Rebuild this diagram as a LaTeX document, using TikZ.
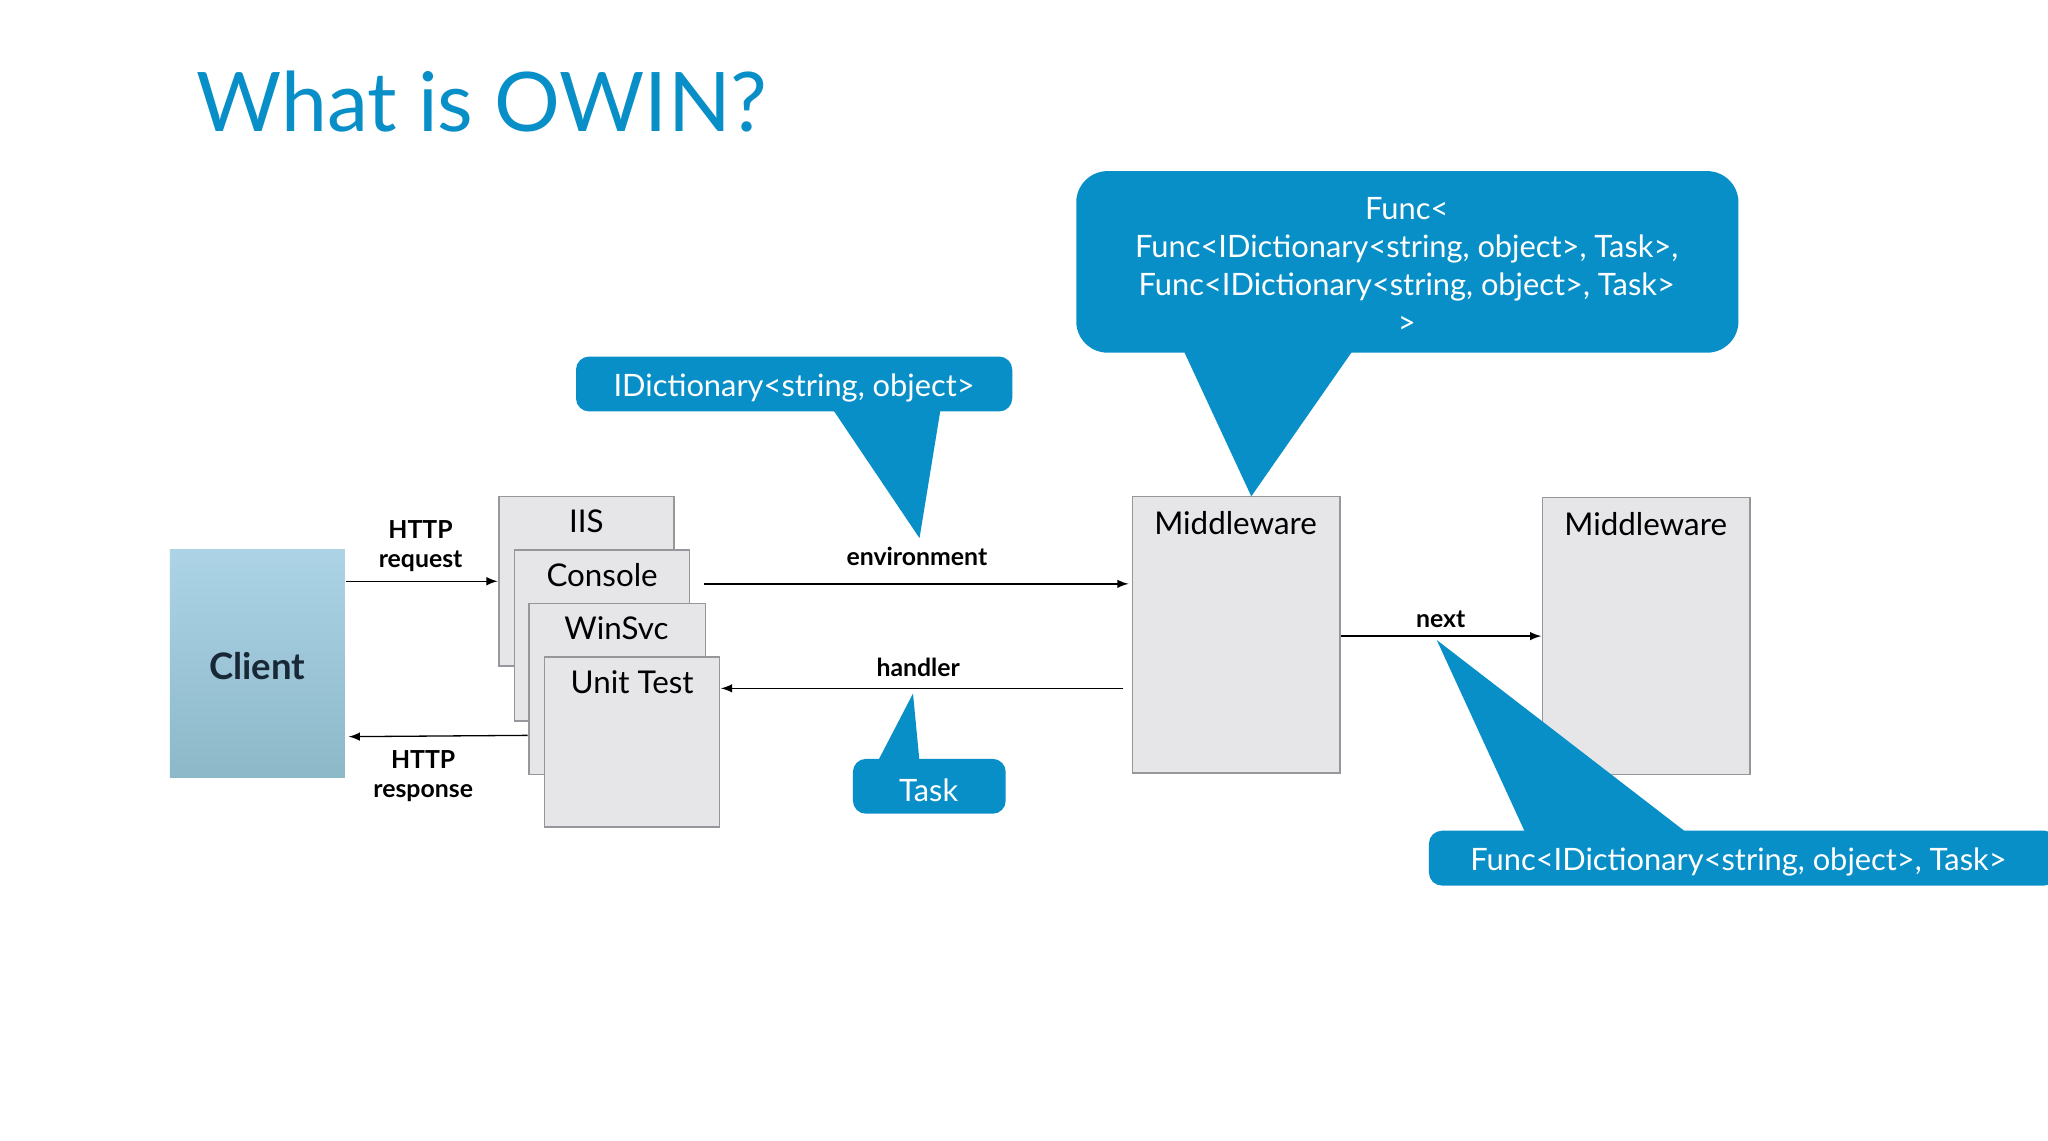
\documentclass[tikz,border=0pt]{standalone}
\usepackage{fontspec}
\setmainfont{Lato}
\definecolor{owin}{RGB}{8,143,200}
\definecolor{boxgray}{RGB}{230,230,233}
\definecolor{boxline}{RGB}{150,150,155}
\begin{document}
\begin{tikzpicture}[x=0.5pt,y=-0.5pt,
  stack/.style={draw=boxline,fill=boxgray,line width=0.6pt},
  lab/.style={font=\fontsize{9.5}{11}\selectfont\bfseries,align=center,inner sep=0},
  boxtxt/.style={font=\fontsize{12}{14}\selectfont,inner sep=0,anchor=north},
  conn/.style={-latex,line width=0.5pt},
  call/.style={fill=owin,draw=none},
  calltxt/.style={text=white,font=\fontsize{11.8}{14.5}\selectfont,align=center,inner sep=0}]
\useasboundingbox (0,0) rectangle (1568,873);
\fill[white] (0,0) rectangle (1568,873);
\node[anchor=base west,text=owin,font=\fontsize{31.5}{36}\selectfont,inner sep=0] (title) at (150,101) {What is OWIN?};
% client
\shade[top color={rgb,255:red,172;green,212;blue,230},bottom color={rgb,255:red,140;green,184;blue,200}] (130,421) rectangle (264,595);
\node[font=\fontsize{14}{16}\selectfont\bfseries,text={rgb,255:red,25;green,40;blue,55}] (client) at (197,510) {Client};
\coordinate (cR1) at (265,445); \coordinate (cR2) at (267,564);
% stack
\draw[stack] (382,380) rectangle (516,510); \node[boxtxt] (iis) at (449,390) {IIS};
\draw[stack] (394,421) rectangle (528,552); \node[boxtxt] (console) at (461,431) {Console};
\draw[stack] (405,462) rectangle (540,593); \node[boxtxt] (winsvc) at (472,472) {WinSvc};
\draw[stack] (417,503) rectangle (551,633); \node[boxtxt] (unit) at (484,513) {Unit Test};
\coordinate (s1) at (381,445); \coordinate (s2) at (404,563);
\coordinate (s3) at (539,447); \coordinate (s4) at (552,527);
% middleware
\draw[stack] (867,380) rectangle (1026,592); \node[boxtxt] (mw1) at (946,391) {Middleware};
\draw[stack] (1181,381) rectangle (1340,593); \node[boxtxt] (mw2) at (1260,392) {Middleware};
\coordinate (m1a) at (864,447); \coordinate (m1b) at (860,527); \coordinate (m1c) at (1027,487); \coordinate (m2a) at (1180,487);
% connectors
\draw[conn] (cR1) -- (s1); \node[lab] (req) at (322,418) {HTTP\\request};
\draw[conn] (s2) -- (cR2); \node[lab] (resp) at (324,594) {HTTP\\response};
\draw[conn] (s3) -- (m1a); \node[lab] (env) at (702,426) {environment};
\draw[conn] (m1b) -- (s4); \node[lab] (hand) at (703,511) {handler};
\draw[conn] (m1c) -- (m2a); \node[lab] (next) at (1103,474) {next};
% callouts
\fill[call,rounded corners=5pt] (441,273) rectangle (775,315);
\fill[call] (638,314) -- (720,314) -- (704,412) -- cycle;
\node[calltxt] (cdict) at (608,297) {IDictionary<string, object>};
\fill[call,rounded corners=12pt] (824,131) rectangle (1331,270);
\fill[call] (906,268) -- (1036,268) -- (958,380) -- cycle;
\node[calltxt] (cfunc) at (1077,203) {Func<\\Func<IDictionary<string, object>, Task>,\\Func<IDictionary<string, object>, Task>\\>};
\fill[call,rounded corners=5pt] (653,581) rectangle (770,623);
\fill[call] (672,583) -- (704,583) -- (699,531) -- cycle;
\node[calltxt] (ctask) at (711,605) {Task};
\fill[call,rounded corners=5pt] (1094,636) rectangle (1575,678);
\fill[call] (1168,638) -- (1292,638) -- (1100,490) -- cycle;
\node[calltxt] (cnext) at (1331,660) {Func<IDictionary<string, object>, Task>};
\end{tikzpicture}
\end{document}
